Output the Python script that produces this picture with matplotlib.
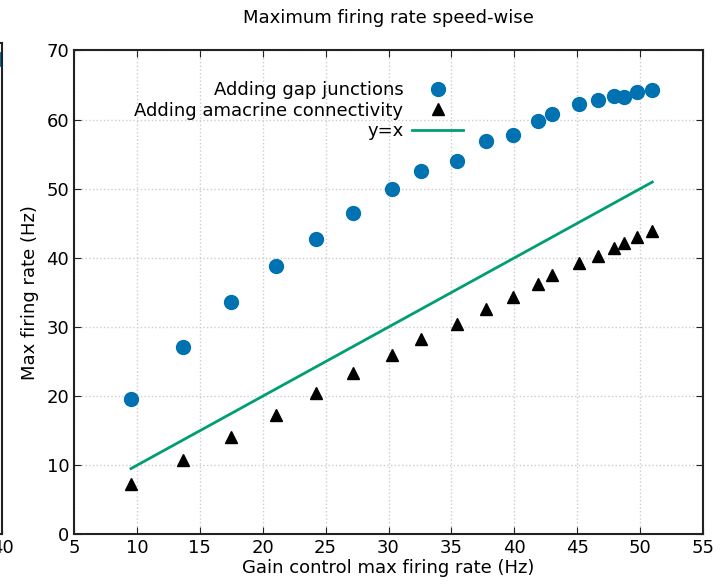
import matplotlib
matplotlib.use('agg')
import matplotlib.pyplot as plt
import numpy as np

# gain control max firing rate (x), shared by both series
gain_rate = [9.53, 13.70, 17.48, 21.06, 24.24, 27.20, 30.25, 32.58, 35.47, 37.75,
             39.90, 41.88, 43.02, 45.12, 46.65, 47.90, 48.73, 49.77, 50.97]
gap_rate = [19.55, 27.08, 33.58, 38.83, 42.74, 46.54, 49.97, 52.62, 54.07, 56.87,
            57.74, 59.81, 60.78, 62.31, 62.84, 63.38, 63.24, 64.00, 64.25]
amacrine_rate = [7.30, 10.77, 14.15, 17.28, 20.42, 23.40, 25.96, 28.23, 30.45, 32.66,
                 34.31, 36.23, 37.54, 39.23, 40.32, 41.44, 42.12, 43.07, 43.90]

# the cut-off neighbour panel on the left edge
prev_x = [40.0]
prev_y = [67.7]

blue = '#0072B2'
green = '#009E73'

fig = plt.figure(figsize=(7.27, 5.84), dpi=100)

# neighbouring panel, almost entirely off the figure
axp = fig.add_axes([-0.9, 0.0848, 0.9028, 0.8416])
axp.plot(prev_x, prev_y, 'o', color=blue, markersize=10, clip_on=True)
axp.set_xlim(0, 40)
axp.set_ylim(0, 70)
axp.set_xticks([40])
axp.set_yticks([])
axp.tick_params(axis='x', labelsize=13, direction='in')
for s in axp.spines.values():
    s.set_color('#222222')
    s.set_linewidth(1.5)

ax = fig.add_axes([0.1018, 0.0848, 0.8652, 0.8288])
ax.plot(gain_rate, gap_rate, 'o', color=blue, markersize=10, label='Adding gap junctions')
ax.plot(gain_rate, amacrine_rate, '^', color='black', markersize=8,
        label='Adding amacrine connectivity')
ax.plot([gain_rate[0], gain_rate[-1]], [gain_rate[0], gain_rate[-1]], '-', color=green,
        lw=2, label='y=x')

ax.set_xlim(5, 55)
ax.set_ylim(0, 70)
ax.set_xticks(np.arange(5, 56, 5))
ax.set_yticks(np.arange(0, 71, 10))
ax.grid(True, color='#cccccc', linestyle=':', linewidth=1)
ax.tick_params(direction='in', top=True, right=True, length=5, labelsize=13,
               color='#222222')
for s in ax.spines.values():
    s.set_color('#222222')
    s.set_linewidth(1.5)

ax.set_title('Maximum firing rate speed-wise', fontsize=13, pad=20)
ax.set_xlabel('Gain control max firing rate (Hz)', fontsize=13, labelpad=1)
ax.set_ylabel('Max firing rate (Hz)', fontsize=13, labelpad=5)

ax.legend(loc='upper left', bbox_to_anchor=(0.076, 0.963), frameon=False, markerfirst=False,
          fontsize=13, handlelength=2.8, labelspacing=0.15, borderaxespad=0.3,
          handletextpad=0.5)

plt.savefig('out.png', dpi=100)
